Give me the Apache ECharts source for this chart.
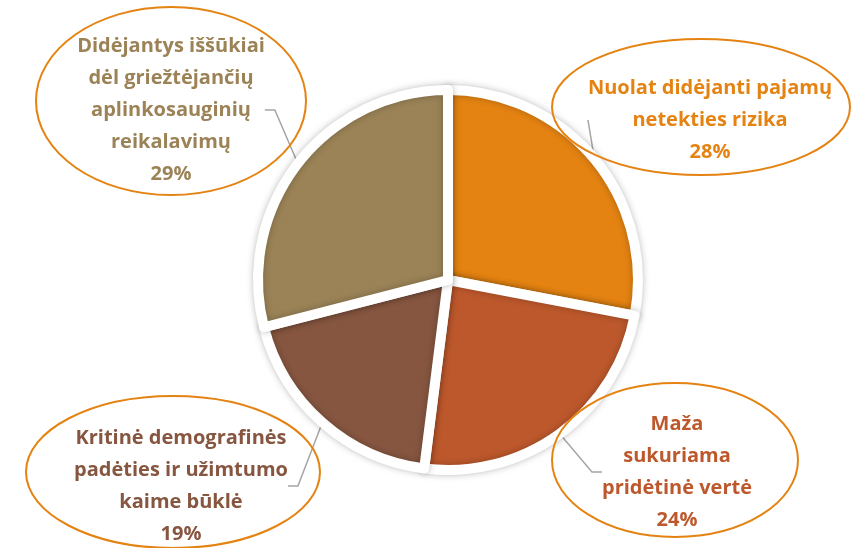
<!DOCTYPE html>
<html>
<head>
<meta charset="utf-8">
<script src="https://cdn.jsdelivr.net/npm/echarts@6/dist/echarts.min.js"></script>
<style>
  html, body { margin: 0; padding: 0; background: #fff; }
  #chart { width: 859px; height: 548px; }
</style>
</head>
<body>
<div id="chart"></div>
<script>
const categories = [
  'Nuolat didėjanti pajamų\nnetekties rizika',
  'Maža\nsukuriama\npridėtinė vertė',
  'Kritinė demografinės\npadėties ir užimtumo\nkaime būklė',
  'Didėjantys iššūkiai\ndėl griežtėjančių\naplinkosauginių\nreikalavimų'
]
const values = [28, 24, 19, 29]
const colors = ['#E48312', '#BD582C', '#865640', '#9B8357']

// label text centres and the ellipses drawn round them
const labelPos = [[710, 120], [677, 472], [181, 486], [171, 110]]
const ellipses = [[701, 107, 149, 68], [675, 460, 123, 77], [173, 472, 147, 76], [171, 101, 135, 94]]

const chart = echarts.init(document.getElementById('chart'))
chart.setOption({
  animation: false,
  series: [
    {
      type: 'pie',
      center: [448, 280],
      radius: 190,
      startAngle: 90,
      clockwise: true,
      data: categories.map((name, i) => ({
        name,
        value: values[i],
        itemStyle: { color: colors[i] },
        label: { color: colors[i] }
      })),
      itemStyle: {
        borderColor: '#fff',
        borderWidth: 10,
        shadowBlur: 7,
        shadowColor: 'rgba(0,0,0,0.25)'
      },
      label: {
        show: true,
        position: 'outside',
        formatter: '{b}\n{d}%',
        fontFamily: 'Open Sans',
        fontWeight: 'bold',
        fontSize: 20,
        lineHeight: 32,
        align: 'center',
        overflow: 'none'
      },
      labelLine: {
        show: true,
        length: 15,
        length2: 10,
        lineStyle: { color: '#A5A5A5', width: 1.5 }
      },
      labelLayout: (p) => ({
        x: labelPos[p.dataIndex][0],
        y: labelPos[p.dataIndex][1],
        align: 'center',
        verticalAlign: 'middle'
      })
    }
  ],
  graphic: ellipses.map(([cx, cy, rx, ry]) => ({
    type: 'ellipse',
    shape: { cx, cy, rx, ry },
    style: { fill: 'none', stroke: '#E48312', lineWidth: 2 },
    z: 100
  }))
})
</script>
</body>
</html>
